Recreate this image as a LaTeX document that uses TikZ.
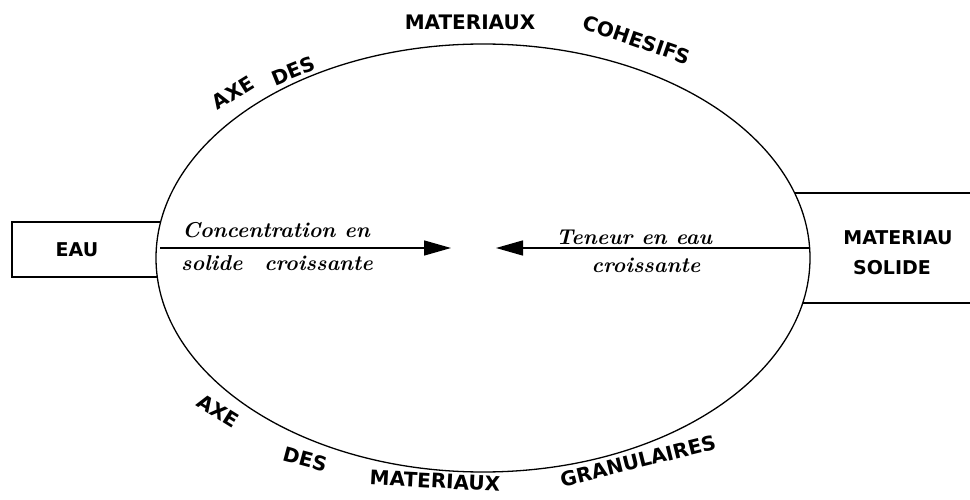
\documentclass[tikz,border=0pt]{standalone}
\usepackage{fontspec}
\newfontfamily\capfont{DejaVu Sans}
\usetikzlibrary{arrows.meta,shapes.geometric}
\tikzset{
  outline/.style={line width=1.3pt, black},
  caplabel/.style={font=\capfont\bfseries\fontsize{20}{20}\selectfont, inner sep=0pt},
  boxlabel/.style={font=\capfont\bfseries\fontsize{19}{20}\selectfont, inner sep=0pt, align=center},
  scripttext/.style={font=\bfseries\itshape\fontsize{21.5}{22}\selectfont, inner sep=0pt},
  flow/.style={line width=1.5pt, -{Triangle[length=27pt,width=15pt]}}
}
\begin{document}
\begin{tikzpicture}[x=1pt,y=-1pt]
\useasboundingbox (0,0) rectangle (970,500);
% main ellipse
\node[ellipse, draw, outline, minimum width=654pt, minimum height=428pt, inner sep=0pt] (E) at (483,258) {};
% EAU box
\coordinate (eauTR) at (160.7,222);
\coordinate (eauTL) at (12,222);
\coordinate (eauBL) at (12,277);
\coordinate (eauBR) at (157.3,277);
\draw[outline] (eauTR) -- (eauTL) -- (eauBL) -- (eauBR);
\node[boxlabel] (eau) at (77,250) {EAU};
% MATERIAU SOLIDE box
\coordinate (solTL) at (794.5,193);
\coordinate (solTR) at (970,193);
\coordinate (solBL) at (802.7,303);
\coordinate (solBR) at (970,303);
\draw[outline] (solTL) -- (solTR);
\draw[outline] (solBL) -- (solBR);
\node[boxlabel] (mat) at (898,238) {MATERIAU};
\node[boxlabel] (sol) at (892,268) {SOLIDE};
% arrows
\coordinate (a1s) at (160,248);
\coordinate (a1e) at (451,248);
\coordinate (a2s) at (810,248);
\coordinate (a2e) at (496,248);
\draw[flow] (a1s) -- (a1e);
\draw[flow] (a2s) -- (a2e);
\node[scripttext] (c1) at (276,230) {Concentration en};
\node[scripttext] (c2) at (277,263) {solide\hspace{0.6em} croissante};
\node[scripttext] (t1) at (634,237) {Teneur en eau};
\node[scripttext] (t2) at (646,265) {croissante};
% axis labels top
\node[caplabel, rotate=32] (tax) at (233,93) {AXE};
\node[caplabel, rotate=22] (tdes) at (293,71) {DES};
\node[caplabel] (tmat) at (470,22) {MATERIAUX};
\node[caplabel, rotate=-19] (tcoh) at (637,40) {COHESIFS};
% axis labels bottom
\node[caplabel, rotate=-32] (bax) at (218,411) {AXE};
\node[caplabel, rotate=-15] (bdes) at (305,459) {DES};
\node[caplabel, rotate=-3] (bmat) at (435,481) {MATERIAUX};
\node[caplabel, rotate=14] (bgra) at (638,461) {GRANULAIRES};
\end{tikzpicture}
\end{document}
